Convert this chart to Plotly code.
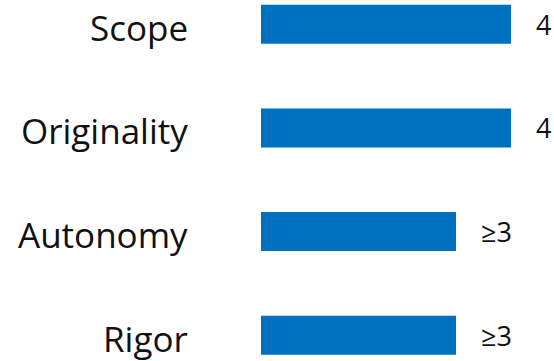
import plotly.graph_objects as go

categories = ["Scope", "Originality", "Autonomy", "Rigor"]
values = [4, 4, 3.12, 3.12]
value_labels = ["4", "4", "≥3", "≥3"]

BAR_COLOR = "#0070C0"
FONT = "Open Sans"

fig = go.Figure()
fig.add_trace(go.Bar(
    x=values,
    y=categories,
    orientation="h",
    marker=dict(color=BAR_COLOR, line=dict(width=0)),
    width=0.376,
    hoverinfo="skip",
))

for cat, val, lab in zip(categories, values, value_labels):
    fig.add_annotation(
        x=val, y=cat, text=lab, showarrow=False,
        xanchor="left", yanchor="middle", xshift=23,
        font=dict(family=FONT, size=27, color="#111111"),
    )
    # category label to the left of the bars
    fig.add_annotation(
        xref="paper", x=0, y=cat, text=cat, showarrow=False,
        xanchor="right", yanchor="middle", xshift=-72, yshift=-3,
        borderpad=0,
        font=dict(family=FONT, size=35, color="#111111"),
    )

fig.update_layout(
    width=554, height=361,
    margin=dict(l=261, r=0, t=0, b=0),
    paper_bgcolor="white", plot_bgcolor="white",
    showlegend=False,
    xaxis=dict(range=[0, 4.688], visible=False, fixedrange=True),
    yaxis=dict(
        type="category",
        categoryorder="array", categoryarray=categories,
        range=[3.248, -0.234],
        showgrid=False, zeroline=False, showline=False, ticks="",
        showticklabels=False,
        fixedrange=True,
    ),
)

fig.write_html(
    "out.html",
    config={"displayModeBar": False},
    post_script="document.body.style.margin='0';document.body.style.padding='0';",
)
